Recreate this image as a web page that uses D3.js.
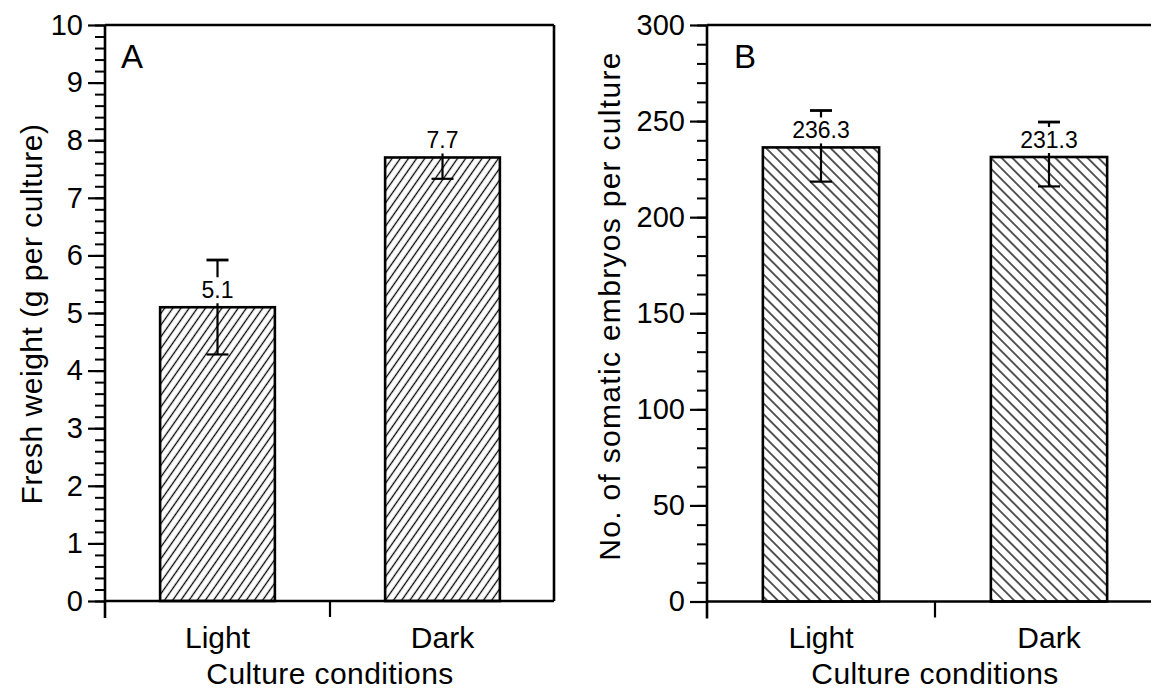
<!DOCTYPE html>
<html>
<head>
<meta charset="utf-8">
<script src="https://cdn.jsdelivr.net/npm/d3@7"></script>
<style>
  body { margin: 0; background: white; }
  svg { display: block; font-family: "Liberation Sans", Arial, Helvetica, sans-serif; }
</style>
</head>
<body>
<script>

// values
var categories = ["Light", "Dark"];

var weightMean = [5.1, 7.7];
var weightLow = [4.28, 7.33];
var weightHigh = [5.92, 8.07];
var weightLabels = ["5.1", "7.7"];
var weightTicks = [0, 1, 2, 3, 4, 5, 6, 7, 8, 9, 10];

var embryoMean = [236.3, 231.3];
var embryoLow = [218.5, 216];
var embryoHigh = [255.5, 249.5];
var embryoLabels = ["236.3", "231.3"];
var embryoTicks = [0, 50, 100, 150, 200, 250, 300];

var svg = d3.select("body")
  .append("svg")
  .attr("width", 1151)
  .attr("height", 693);

var defs = svg.append("defs");

// A uses "/" hatching, B uses "\" hatching
function hatch(id, spacing, angle) {
  var p = defs.append("pattern")
    .attr("id", id)
    .attr("patternUnits", "userSpaceOnUse")
    .attr("width", spacing)
    .attr("height", 20)
    .attr("patternTransform", "rotate(" + angle + ")");
  p.append("line")
    .attr("x1", spacing / 2).attr("x2", spacing / 2)
    .attr("y1", 0).attr("y2", 20)
    .attr("stroke", "black")
    .attr("stroke-width", 1.3);
}
hatch("hatchA", 6.7, 35);
hatch("hatchB", 7.6, -45);

function drawPanel(opt) {
  var g = svg.append("g");

  var x = d3.scaleBand()
    .domain(categories)
    .range([opt.left, opt.bandRight]);

  var y = d3.scaleLinear()
    .domain([0, opt.max])
    .range([opt.bottom, opt.top]);

  var barW = x.bandwidth() * 0.51;

  // minor ticks
  g.append("g")
    .attr("transform", "translate(" + opt.left + ",0)")
    .call(d3.axisLeft(y).tickValues(d3.range(0, opt.max + 0.001, opt.minor)).tickSize(10).tickFormat(""))
    .call(function (a) { a.select(".domain").remove(); })
    .selectAll("line").attr("stroke-width", 2);

  // major ticks with labels
  g.append("g")
    .attr("transform", "translate(" + opt.left + ",0)")
    .call(d3.axisLeft(y).tickValues(opt.ticks).tickSize(17).tickPadding(5).tickFormat(d3.format("d")))
    .call(function (a) { a.select(".domain").remove(); })
    .call(function (a) {
      a.selectAll("line").attr("stroke-width", 2.2);
      a.selectAll("text")
        .attr("font-size", 29)
        .attr("font-family", "'Liberation Sans', Arial, sans-serif")
        .attr("fill", "black");
    });

  // tick between the two categories
  g.append("line")
    .attr("x1", x("Dark")).attr("x2", x("Dark"))
    .attr("y1", opt.bottom).attr("y2", opt.bottom + 16)
    .attr("stroke", "black").attr("stroke-width", 2.2);

  // frame: left axis (running below zero), bottom axis, top, right
  g.append("line")
    .attr("x1", opt.left).attr("x2", opt.left)
    .attr("y1", opt.top).attr("y2", opt.bottom + 17)
    .attr("stroke", "black").attr("stroke-width", 2.6);
  g.append("line")
    .attr("x1", opt.left).attr("x2", opt.frameRight)
    .attr("y1", opt.bottom).attr("y2", opt.bottom)
    .attr("stroke", "black").attr("stroke-width", 2.6);
  g.append("line")
    .attr("x1", opt.left).attr("x2", opt.frameRight)
    .attr("y1", opt.top).attr("y2", opt.top)
    .attr("stroke", "black").attr("stroke-width", 2.6);
  if (opt.rightBorder) {
    g.append("line")
      .attr("x1", opt.frameRight).attr("x2", opt.frameRight)
      .attr("y1", opt.top).attr("y2", opt.bottom)
      .attr("stroke", "black").attr("stroke-width", 2.6);
  }

  // bars
  g.selectAll(".bar")
    .data(categories)
    .join("rect")
    .attr("class", "bar")
    .attr("x", function (d) { return x(d) + (x.bandwidth() - barW) / 2; })
    .attr("y", function (d, i) { return y(opt.mean[i]); })
    .attr("width", barW)
    .attr("height", function (d, i) { return y(0) - y(opt.mean[i]); })
    .attr("fill", "url(#" + opt.pattern + ")")
    .attr("stroke", "black")
    .attr("stroke-width", 2.6);

  // error bars
  var cap = 11;
  categories.forEach(function (c, i) {
    var cx = x(c) + x.bandwidth() / 2;
    var eb = g.append("g").attr("stroke", "black").attr("stroke-width", 2.2);
    eb.append("line")
      .attr("x1", cx).attr("x2", cx)
      .attr("y1", y(opt.low[i])).attr("y2", y(opt.high[i]));
    eb.append("line")
      .attr("x1", cx - cap).attr("x2", cx + cap)
      .attr("y1", y(opt.low[i])).attr("y2", y(opt.low[i]));
    eb.append("line")
      .attr("x1", cx - cap).attr("x2", cx + cap)
      .attr("y1", y(opt.high[i])).attr("y2", y(opt.high[i]))
      .attr("stroke-width", 2.8);

    // value label sits on a white box that hides the stem behind it
    var lg = g.append("g");
    var t = lg.append("text")
      .attr("x", cx)
      .attr("y", y(opt.mean[i]) - 9)
      .attr("text-anchor", "middle")
      .attr("font-size", 23)
      .text(opt.labels[i]);
    var bb = t.node().getBBox();
    lg.insert("rect", "text")
      .attr("x", bb.x - 2).attr("y", bb.y)
      .attr("width", bb.width + 4).attr("height", bb.height)
      .attr("fill", "white");
  });

  // category labels
  g.selectAll(".cat")
    .data(categories)
    .join("text")
    .attr("class", "cat")
    .attr("x", function (d) { return x(d) + x.bandwidth() / 2; })
    .attr("y", 648)
    .attr("text-anchor", "middle")
    .attr("font-size", 30)
    .text(function (d) { return d; });

  g.append("text")
    .attr("x", x("Dark"))
    .attr("y", 684)
    .attr("text-anchor", "middle")
    .attr("font-size", 30)
    .attr("letter-spacing", 0.4)
    .text("Culture conditions");

  g.append("text")
    .attr("transform", "translate(" + opt.titleX + "," + opt.titleY + ") rotate(-90)")
    .attr("text-anchor", "middle")
    .attr("font-size", 30)
    .attr("letter-spacing", opt.titleSpacing)
    .text(opt.title);

  g.append("text")
    .attr("x", opt.left + opt.letterDx)
    .attr("y", 68)
    .attr("font-size", 33)
    .text(opt.letter);
}

drawPanel({
  left: 105, bandRight: 555, frameRight: 554, rightBorder: true,
  top: 25, bottom: 601, max: 10, minor: 0.2, ticks: weightTicks,
  mean: weightMean, low: weightLow, high: weightHigh, labels: weightLabels,
  pattern: "hatchA",
  title: "Fresh weight (g per culture)", titleX: 42, titleY: 314, titleSpacing: 0.5,
  letter: "A", letterDx: 16
});

drawPanel({
  left: 707, bandRight: 1163, frameRight: 1151, rightBorder: false,
  top: 25, bottom: 601.5, max: 300, minor: 10, ticks: embryoTicks,
  mean: embryoMean, low: embryoLow, high: embryoHigh, labels: embryoLabels,
  pattern: "hatchB",
  title: "No. of somatic embryos per culture", titleX: 620, titleY: 306, titleSpacing: 1.3,
  letter: "B", letterDx: 27
});

</script>
</body>
</html>
